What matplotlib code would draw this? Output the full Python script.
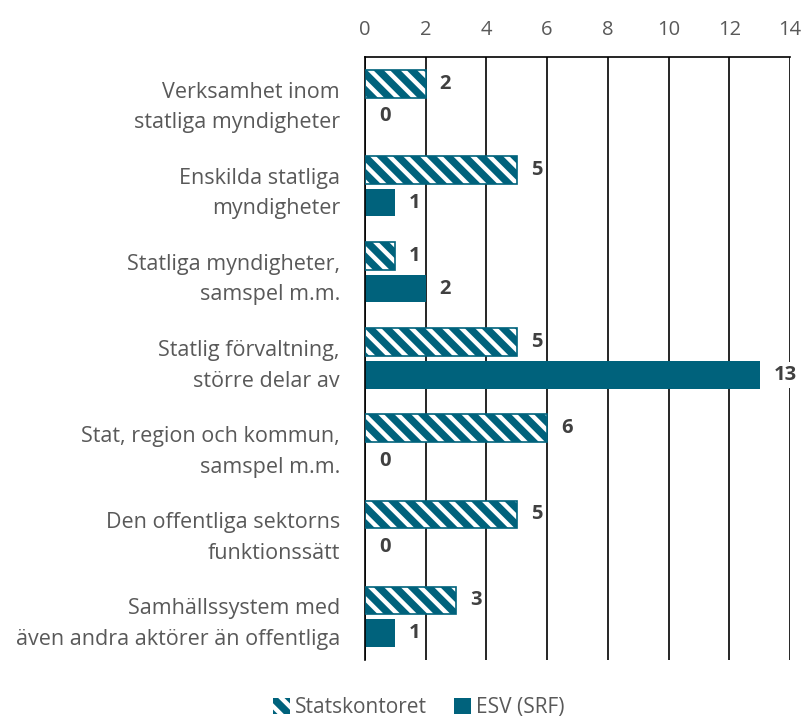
import numpy as np
import matplotlib.pyplot as plt
from matplotlib.patches import Patch

plt.rcParams['font.family'] = ['Open Sans', 'DejaVu Sans']
plt.rcParams['hatch.linewidth'] = 3.2

# data
categories = ['Verksamhet inom\nstatliga myndigheter',
              'Enskilda statliga\nmyndigheter',
              'Statliga myndigheter,\nsamspel m.m.',
              'Statlig förvaltning,\nstörre delar av',
              'Stat, region och kommun,\nsamspel m.m.',
              'Den offentliga sektorns\nfunktionssätt',
              'Samhällssystem med\näven andra aktörer än offentliga']
statskontoret = [2, 5, 1, 5, 6, 5, 3]
esv = [0, 1, 2, 13, 0, 0, 1]
xticks = [0, 2, 4, 6, 8, 10, 12, 14]

teal = '#00627C'

fig = plt.figure(figsize=(8.03, 7.22), dpi=100)
ax = fig.add_axes([0.4545, 0.086, 0.5293, 0.835])

y = np.arange(len(categories))
h = 0.32
off = 0.19

# gridlines
for t in xticks:
    ax.axvline(t, color='black', lw=1.2, zorder=0)

# hatched bars: white hatch on teal, then teal outline
ax.barh(y - off, statskontoret, height=h, color=teal, edgecolor='white',
        hatch='\\\\', linewidth=0, zorder=2)
ax.barh(y - off, statskontoret, height=h, facecolor='none', edgecolor=teal,
        linewidth=1.2, zorder=3)
ax.barh(y + off, esv, height=h, color=teal, linewidth=0, zorder=2)

lbl = dict(fontsize=14.5, fontweight='bold', color='#404040', va='center', ha='left',
           bbox=dict(facecolor='white', edgecolor='none', pad=2), zorder=4)
for i in range(len(categories)):
    ax.annotate(str(statskontoret[i]), (statskontoret[i], y[i] - off),
                xytext=(10, 0), textcoords='offset points', **lbl)
    ax.annotate(str(esv[i]), (esv[i], y[i] + off),
                xytext=(10, 0), textcoords='offset points', **lbl)

ax.set_xlim(0, 14)
ax.set_ylim(len(categories) - 0.5, -0.5)
ax.set_xticks(xticks)
ax.xaxis.tick_top()
ax.tick_params(axis='x', length=0, pad=12, labelsize=14.5, labelcolor='#595959')
ax.set_yticks(y)
ax.set_yticklabels(categories, fontsize=15.5, color='#595959', ha='right',
                   multialignment='right', linespacing=1.6)
ax.tick_params(axis='y', length=0, pad=18)

for s in ['bottom', 'right']:
    ax.spines[s].set_visible(False)
ax.spines['top'].set_linewidth(1.2)
ax.spines['left'].set_linewidth(1.2)

handles = [Patch(facecolor=teal, edgecolor='white', hatch='\\\\', linewidth=0),
           Patch(facecolor=teal, linewidth=0)]
fig.legend(handles, ['Statskontoret', 'ESV (SRF)'], loc='center',
           bbox_to_anchor=(0.522, 0.02), ncol=2, frameon=False,
           fontsize=15, labelcolor='#595959', handlelength=0.8,
           handleheight=0.8, handletextpad=0.25, columnspacing=1.3)

fig.savefig('out.png', dpi=100)
